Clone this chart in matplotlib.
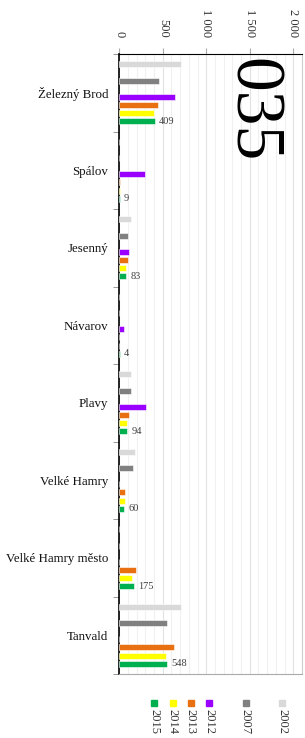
import matplotlib
matplotlib.use("Agg")
import matplotlib.pyplot as plt
from matplotlib.patches import Rectangle
from matplotlib.ticker import MultipleLocator, FuncFormatter
import numpy as np

plt.rcParams['font.family'] = ['Liberation Serif', 'DejaVu Serif']

obce = ['Železný Brod', 'Spálov', 'Jesenný', 'Návarov', 'Plavy',
        'Velké Hamry', 'Velké Hamry město', 'Tanvald']
roky = ['2002', '', '2007', '', '2012', '2013', '2014', '2015']
barvy = ['#d9d9d9', None, '#808080', None, '#9900ff', '#e97010', '#ffff00', '#00b050']

v2002 = [705, 0, 135, 0, 140, 185, 0, 710]
v2007 = [460, 0, 105, 0, 135, 160, 0, 550]
v2012 = [645, 300, 110, 60, 305, 0, 0, 0]
v2013 = [445, 5, 105, 0, 110, 70, 190, 635]
v2014 = [400, 4, 75, 0, 90, 65, 145, 540]
v2015 = [409, 9, 83, 4, 94, 60, 175, 548]
hodnoty = [v2002, None, v2007, None, v2012, v2013, v2014, v2015]

fig = plt.figure(figsize=(3.05, 7.38), dpi=100)
ax = fig.add_axes([0.391, 0.0867, 0.599, 0.8401])

y = np.arange(len(obce))
slot = 0.105
for k, vals in enumerate(hodnoty):
    if vals is None:
        continue
    ax.barh(y + (k - 3.5) * slot, vals, height=0.078, color=barvy[k],
            edgecolor='white', linewidth=0.4, zorder=3)

for i, v in enumerate(v2015):
    ax.text(v + 45, y[i] + 3.5 * slot, str(v), va='center', ha='left',
            fontsize=7.5, color='#404040', zorder=4)

ax.set_xlim(0, 2100)
ax.set_ylim(len(obce) - 0.5, -0.5)
ax.xaxis.tick_top()
ax.xaxis.set_major_locator(MultipleLocator(500))
ax.xaxis.set_minor_locator(MultipleLocator(100))
ax.xaxis.set_major_formatter(FuncFormatter(lambda v, p: f'{int(v):,}'.replace(',', ' ')))
ax.tick_params(axis='x', which='major', length=4, color='#aaaaaa', pad=8,
               labelsize=9, labelcolor='#333333', labelrotation=-90)
ax.tick_params(axis='x', which='minor', length=0)
ax.grid(axis='x', which='minor', color='#f0f0f0', linewidth=0.8, zorder=0)
ax.grid(axis='x', which='major', color='#e2e2e2', linewidth=0.8, zorder=0)

ax.set_yticks(y)
ax.set_yticklabels(obce)
ax.set_yticks(np.arange(len(obce) + 1) - 0.5, minor=True)
ax.tick_params(axis='y', which='major', length=0, pad=8, labelsize=9.3, labelcolor='#111111')
ax.tick_params(axis='y', which='minor', length=4, color='#888888')

ax.spines['top'].set_color('black')
ax.spines['left'].set_color('black')
ax.spines['left'].set_linewidth(1.2)
ax.spines['bottom'].set_color('#aaaaaa')
ax.spines['right'].set_color('#cccccc')

fig.text(251 / 305, 1 - 110 / 738, '035', rotation=-90, fontsize=50, ha='center', va='center',
         color='black', zorder=5)

# legenda
W, H = 305, 738
x0, krok = 154.3, 18.3
for j, k in enumerate(range(7, -1, -1)):
    if barvy[k] is None:
        continue
    cx = x0 + j * krok
    fig.patches.append(Rectangle(((cx - 3) / W, 1 - 706 / H), 6 / W, 6 / H,
                                 transform=fig.transFigure, color=barvy[k]))
    fig.text(cx / W, 1 - 709 / H, roky[k], rotation=-90, ha='center', va='top',
             fontsize=9, color='#333333')

plt.savefig('out.png', dpi=100)
